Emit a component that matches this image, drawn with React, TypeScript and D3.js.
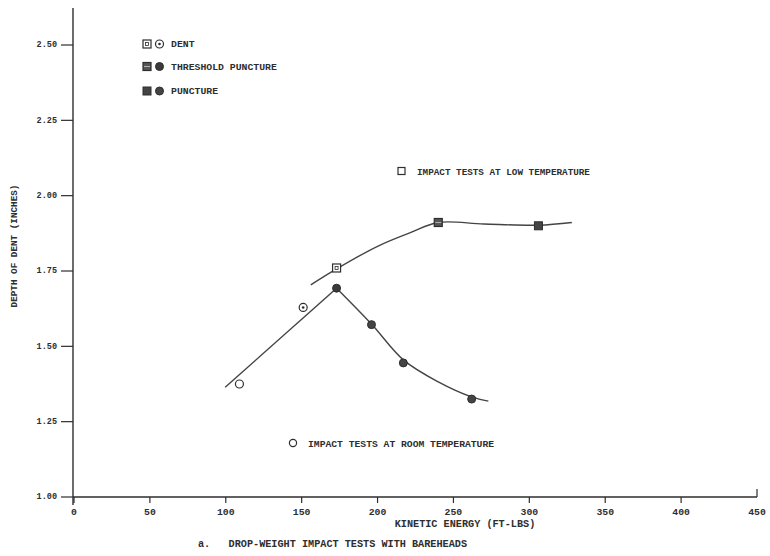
import React from "react";
import * as d3 from "d3";

// ---- data ----
const xTicks = [0, 50, 100, 150, 200, 250, 300, 350, 400, 450];
const xTickLabels = ["0", "50", "100", "150", "200", "250", "300", "350", "400", "450"];
const yTicks = [1.0, 1.25, 1.5, 1.75, 2.0, 2.25, 2.5];
const yTickLabels = ["1.00", "1.25", "1.50", "1.75", "2.00", "2.25", "2.50"];

// Low-temperature tests (squares)
const lowEnergy = [173, 240, 306];
const lowDepth = [1.76, 1.911, 1.9];
const lowType = ["dent", "threshold", "puncture"];
// fitted curve through low-temperature tests
const lowCurveX = [156, 173, 200, 222, 240, 270, 306, 328];
const lowCurveY = [1.704, 1.757, 1.832, 1.878, 1.911, 1.906, 1.902, 1.911];

// Room-temperature tests (circles)
const roomEnergy = [109, 151, 173, 196, 217, 262];
const roomDepth = [1.375, 1.629, 1.693, 1.572, 1.445, 1.325];
const roomType = ["dent", "dent", "threshold", "puncture", "puncture", "puncture"];
// fitted curves: rising straight segment, then falling curve
const roomRiseX = [99.6, 173];
const roomRiseY = [1.364, 1.693];
const roomFallX = [173, 196, 217, 240, 262, 273];
const roomFallY = [1.693, 1.574, 1.455, 1.382, 1.332, 1.318];

const legendLabels = ["DENT", "THRESHOLD PUNCTURE", "PUNCTURE"];
const legendTypes = ["dent", "threshold", "puncture"];

const INK = "#2e2e2e";
const FONT = "'Liberation Mono', 'DejaVu Sans Mono', monospace";

function Square({ cx, cy, type, s = 8 }: { cx: number; cy: number; type: string; s?: number }) {
  const h = s / 2;
  if (type === "dent") {
    return (
      <g>
        <rect x={cx - h} y={cy - h} width={s} height={s} fill="#fff" stroke={INK} strokeWidth={1.2} />
        <rect x={cx - 1.5} y={cy - 1.5} width={3} height={3} fill="none" stroke={INK} strokeWidth={0.8} />
      </g>
    );
  }
  if (type === "threshold") {
    return (
      <g>
        <rect x={cx - h} y={cy - h} width={s} height={s} fill="#555" stroke={INK} strokeWidth={1.2} />
        <line x1={cx - h + 1} x2={cx + h - 1} y1={cy} y2={cy} stroke="#bbb" strokeWidth={0.9} />
      </g>
    );
  }
  return <rect x={cx - h} y={cy - h} width={s} height={s} fill="#444" stroke={INK} strokeWidth={1} />;
}

function Circle({ cx, cy, type, r = 4, dotted = false }: { cx: number; cy: number; type: string; r?: number; dotted?: boolean }) {
  if (type === "dent") {
    return (
      <g>
        <circle cx={cx} cy={cy} r={r} fill="#fff" stroke={INK} strokeWidth={1.2} />
        {dotted && <circle cx={cx} cy={cy} r={1.3} fill={INK} />}
      </g>
    );
  }
  if (type === "threshold") {
    return <circle cx={cx} cy={cy} r={r} fill="#3a3a3a" stroke={INK} strokeWidth={1} />;
  }
  return <circle cx={cx} cy={cy} r={r} fill="#444" stroke={INK} strokeWidth={1} />;
}

export default function App() {
  const W = 770;
  const H = 556;
  const x = d3.scaleLinear().domain([0, 450]).range([74, 757]);
  const y = d3.scaleLinear().domain([1.0, 2.5]).range([497, 45]);

  const lowLine = d3
    .line<number>()
    .x((d) => x(lowCurveX[d]))
    .y((d) => y(lowCurveY[d]))
    .curve(d3.curveCatmullRom.alpha(0.5))(lowCurveX.map((_, i) => i));
  const riseLine = d3
    .line<number>()
    .x((d) => x(roomRiseX[d]))
    .y((d) => y(roomRiseY[d]))(roomRiseX.map((_, i) => i));
  const fallLine = d3
    .line<number>()
    .x((d) => x(roomFallX[d]))
    .y((d) => y(roomFallY[d]))
    .curve(d3.curveCatmullRom.alpha(0.5))(roomFallX.map((_, i) => i));

  const x0 = x(0);
  const y0 = y(1.0);

  return (
    <svg
      width={W}
      height={H}
      viewBox={`0 0 ${W} ${H}`}
      style={{ position: "absolute", left: 0, top: 0, background: "#fff" }}
    >
      <rect x={0} y={0} width={W} height={H} fill="#fff" />

      {/* y axis */}
      <line x1={x0 - 1} x2={x0 - 1} y1={8} y2={y0 + 8} stroke={INK} strokeWidth={1.4} />
      {yTicks.map((t, i) => (
        <g key={"yt" + i}>
          <line x1={x0 - 13} x2={x0 - 1} y1={y(t)} y2={y(t)} stroke={INK} strokeWidth={1.2} />
          <text
            x={57}
            y={y(t)}
            textAnchor="end"
            dominantBaseline="middle"
            fontFamily={FONT}
            fontWeight="bold"
            fontSize={8.5}
            fill={INK}
          >
            {yTickLabels[i]}
          </text>
        </g>
      ))}
      <text
        transform={`translate(15, 246) rotate(-90)`}
        textAnchor="middle"
        dominantBaseline="middle"
        fontFamily={FONT}
        fontWeight="bold"
        fontSize={9.3}
        fill={INK}
      >
        DEPTH OF DENT (INCHES)
      </text>

      {/* x axis */}
      <line x1={x0 - 1} x2={x(450)} y1={y0} y2={y0} stroke={INK} strokeWidth={1.4} />
      {xTicks.map((t, i) => (
        <g key={"xt" + i}>
          {t === 450 ? (
            <line x1={x(t)} x2={x(t)} y1={y0} y2={y0 - 8} stroke={INK} strokeWidth={1.2} />
          ) : (
            <line x1={x(t)} x2={x(t)} y1={y0} y2={y0 + 6} stroke={INK} strokeWidth={1.2} />
          )}
          <text
            x={x(t)}
            y={515}
            textAnchor="middle"
            fontFamily={FONT}
            fontWeight="bold"
            fontSize={9.8}
            fill={INK}
          >
            {xTickLabels[i]}
          </text>
        </g>
      ))}
      <text
        x={465}
        y={527}
        textAnchor="middle"
        fontFamily={FONT}
        fontWeight="bold"
        fontSize={10.2}
        fill={INK}
      >
        KINETIC ENERGY (FT-LBS)
      </text>
      <text x={198} y={547} fontFamily={FONT} fontWeight="bold" fontSize={10.2} fill={INK} xmlSpace="preserve">
        {"a.   DROP-WEIGHT IMPACT TESTS WITH BAREHEADS"}
      </text>

      {/* curves */}
      <path d={lowLine ?? ""} fill="none" stroke="#444" strokeWidth={1.4} />
      <path d={riseLine ?? ""} fill="none" stroke="#444" strokeWidth={1.4} />
      <path d={fallLine ?? ""} fill="none" stroke="#444" strokeWidth={1.4} />

      {/* markers */}
      {lowEnergy.map((e, i) => (
        <Square key={"ls" + i} cx={x(e)} cy={y(lowDepth[i])} type={lowType[i]} />
      ))}
      {roomEnergy.map((e, i) => (
        <Circle key={"rc" + i} cx={x(e)} cy={y(roomDepth[i])} type={roomType[i]} dotted={i === 1} />
      ))}

      {/* annotations */}
      <rect x={398} y={167.5} width={7} height={7} fill="#fff" stroke={INK} strokeWidth={1.2} />
      <text x={417} y={174.5} fontFamily={FONT} fontWeight="bold" fontSize={9.3} fill={INK}>
        IMPACT TESTS AT LOW TEMPERATURE
      </text>
      <circle cx={293} cy={443} r={3.6} fill="#fff" stroke={INK} strokeWidth={1.2} />
      <text x={308} y={446.5} fontFamily={FONT} fontWeight="bold" fontSize={9.7} fill={INK}>
        IMPACT TESTS AT ROOM TEMPERATURE
      </text>

      {/* legend */}
      {legendLabels.map((lab, i) => {
        const ly = [44, 66.5, 91][i];
        return (
          <g key={"lg" + i}>
            <Square cx={147} cy={ly} type={legendTypes[i]} s={8} />
            <Circle cx={159.5} cy={ly} type={legendTypes[i]} r={4} dotted={true} />
            <text x={171} y={ly + 3.2} fontFamily={FONT} fontWeight="bold" fontSize={9.8} fill={INK}>
              {lab}
            </text>
          </g>
        );
      })}
    </svg>
  );
}
